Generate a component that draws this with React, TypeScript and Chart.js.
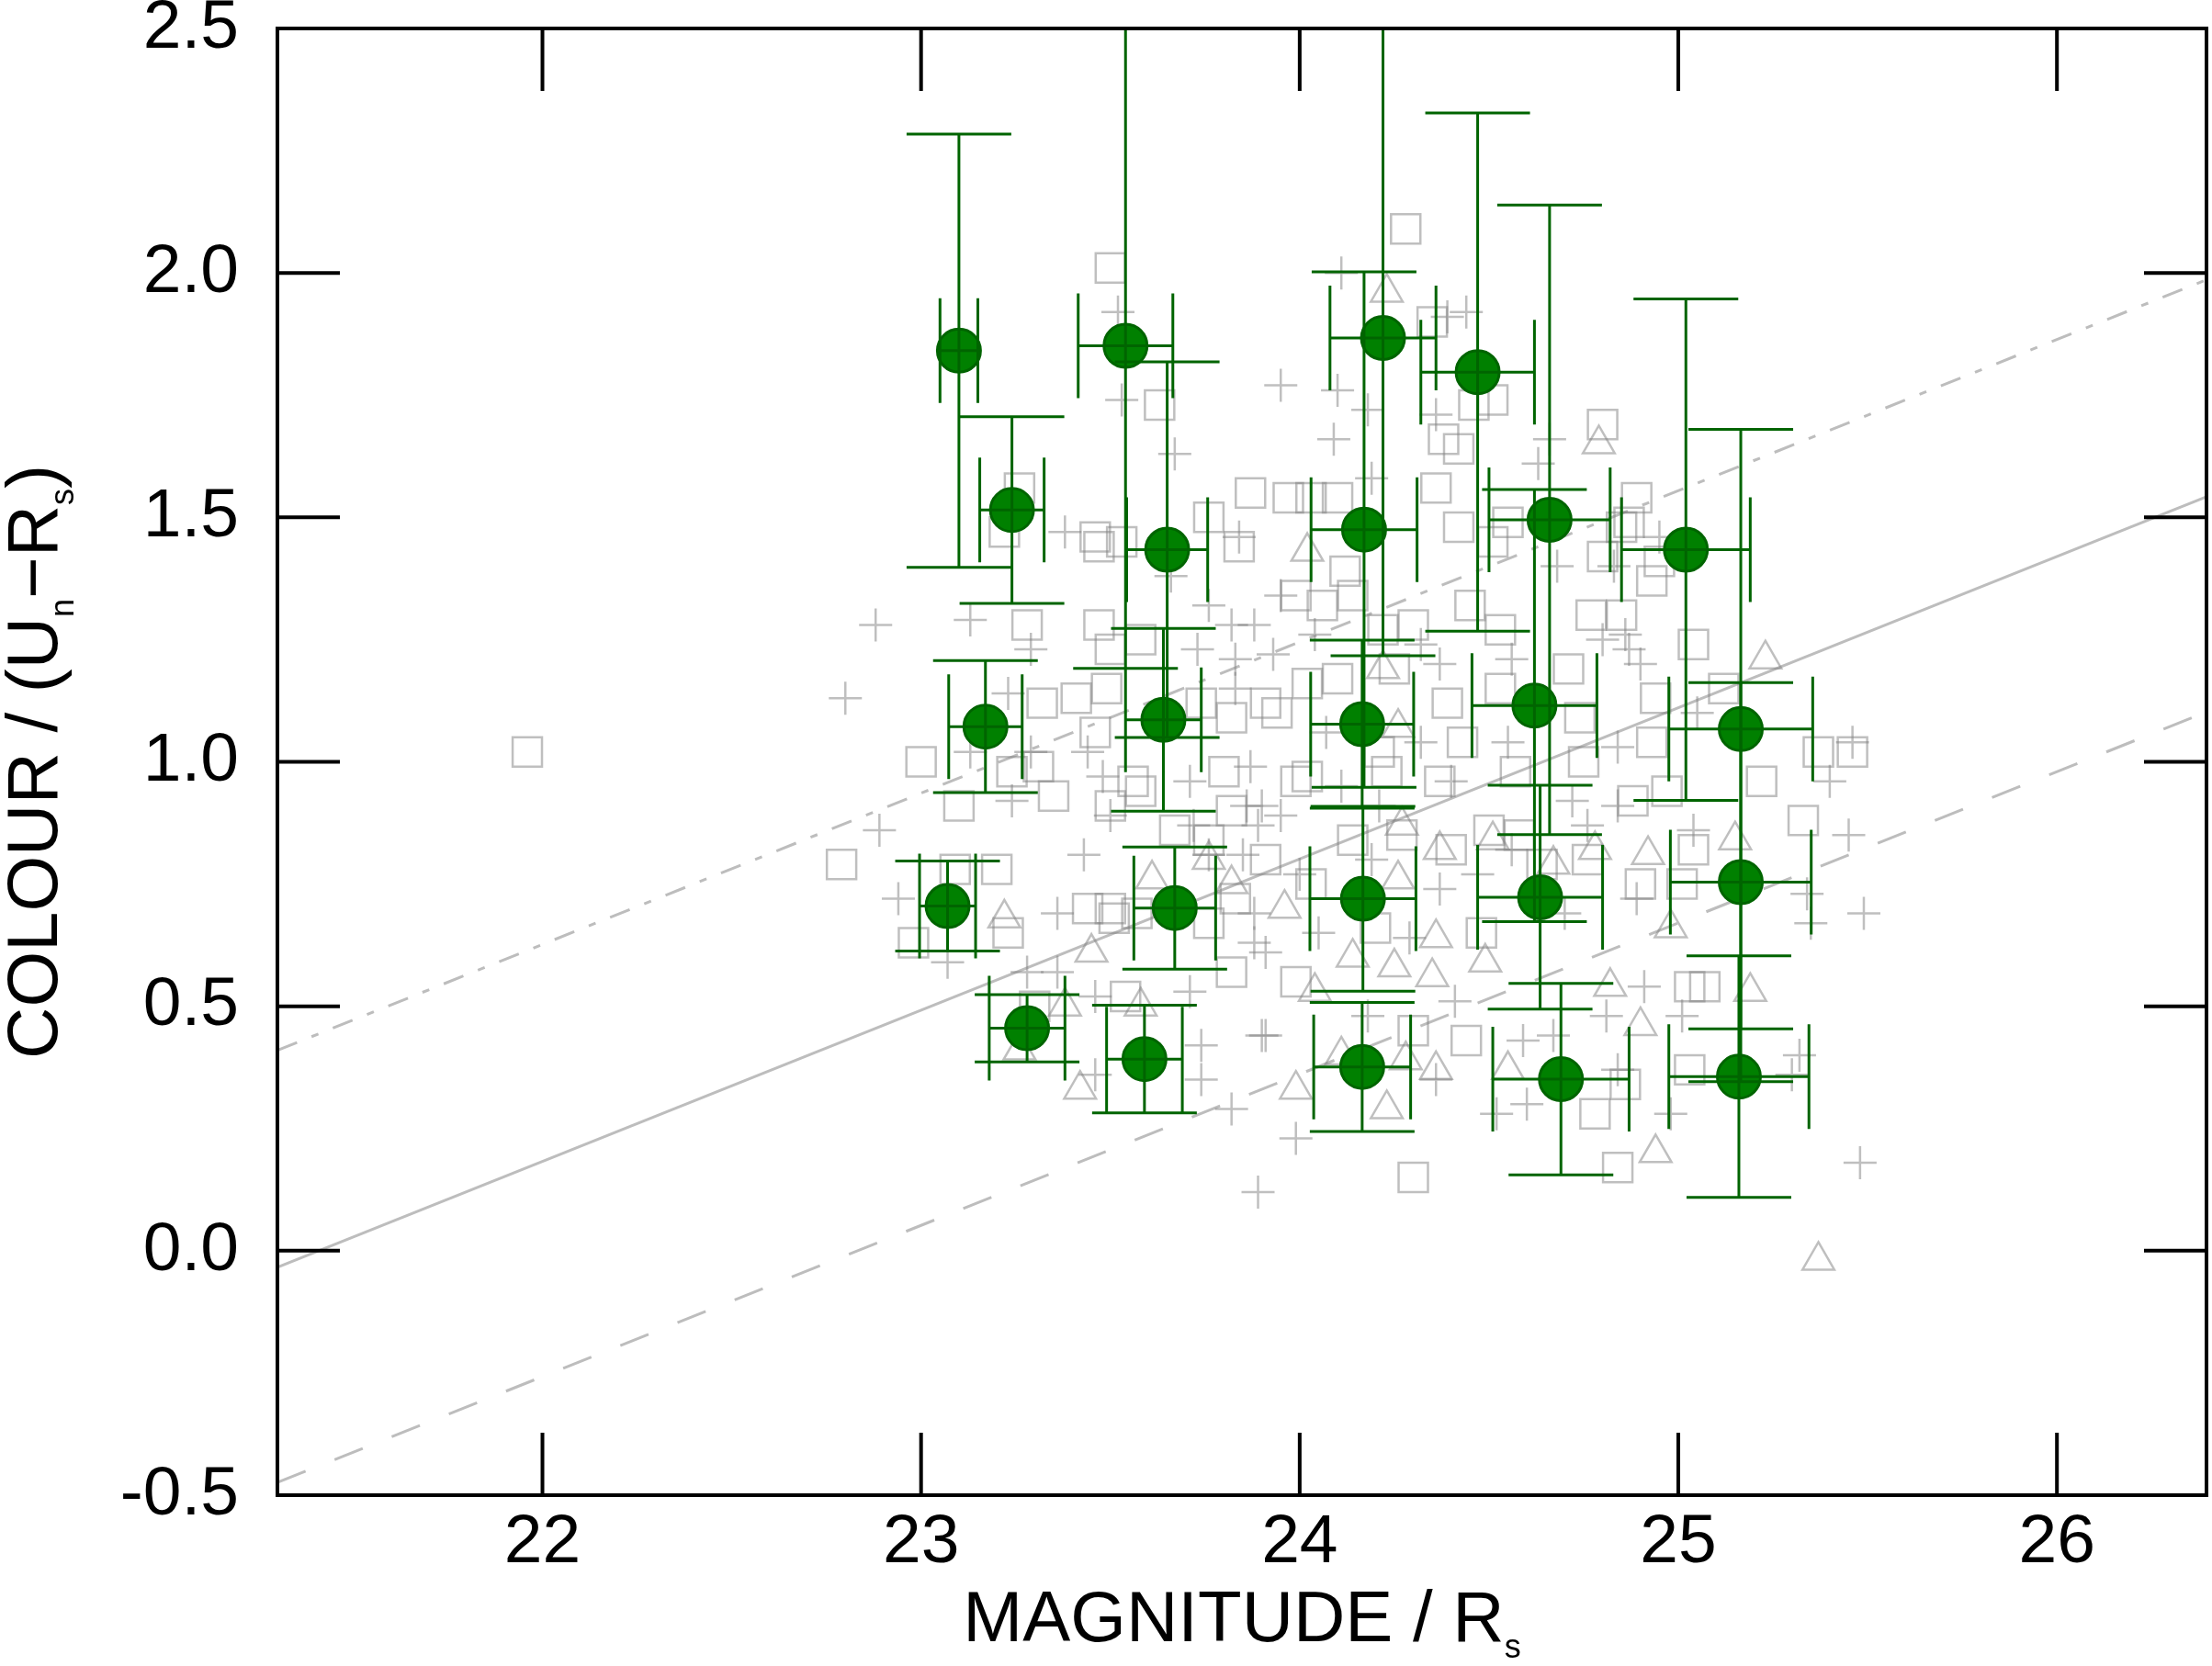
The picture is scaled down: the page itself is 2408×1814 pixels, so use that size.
import { useEffect, useRef } from "react";
import { Chart, registerables } from "chart.js";

Chart.register(...registerables);

const FONT = "'Liberation Sans', Arial, Helvetica, sans-serif";

const X_TICKS = [22, 23, 24, 25, 26];
const Y_TICKS = [-0.5, 0, 0.5, 1, 1.5, 2, 2.5];

const X_TITLE: [string, boolean][] = [["MAGNITUDE / R", false], ["s", true]];
const Y_TITLE: [string, boolean][] = [
  ["COLOUR / (U", false],
  ["n", true],
  ["\u2212R", false],
  ["s", true],
  [")", false],
];

// green objects with error bars (symmetric)
const GREEN_X = [23.10, 23.24, 23.54, 23.65, 23.17, 23.64, 23.07, 23.67, 23.28, 23.59, 24.22, 24.47, 24.17, 24.165, 24.167, 24.165, 24.66, 24.62, 24.635, 24.69, 25.02, 25.165, 25.165, 25.16];
const GREEN_Y = [1.841, 1.515, 1.851, 1.434, 1.072, 1.086, 0.705, 0.701, 0.455, 0.392, 1.867, 1.797, 1.475, 1.077, 0.720, 0.376, 1.495, 1.115, 0.723, 0.351, 1.434, 1.067, 0.754, 0.356];
const GREEN_XERR = [0.05, 0.085, 0.125, 0.107, 0.097, 0.10, 0.074, 0.108, 0.10, 0.10, 0.14, 0.15, 0.14, 0.136, 0.14, 0.128, 0.16, 0.165, 0.165, 0.18, 0.17, 0.19, 0.186, 0.185];
const GREEN_YERR = [0.443, 0.191, 0.66, 0.384, 0.135, 0.187, 0.092, 0.125, 0.069, 0.11, 0.65, 0.53, 0.527, 0.172, 0.189, 0.132, 0.644, 0.442, 0.229, 0.196, 0.513, 0.613, 0.408, 0.247];

// the three parallel relations
const FIT_X = [21.3, 26.395];
const FIT_MID = [-0.034, 1.542];
const FIT_UPPER = [0.41, 1.986];
const FIT_LOWER = [-0.474, 1.102];

const SQUARE_X = [21.96, 22.79, 23.00, 22.98, 23.10, 23.50, 23.63, 23.26, 23.87, 23.76, 23.22, 23.47, 23.53, 23.84, 23.28, 23.47, 23.50, 23.58, 23.32, 23.41, 23.49, 23.74, 23.82, 23.46, 23.24, 23.31, 23.35, 23.56, 23.58, 23.50, 23.80, 23.82, 23.67, 23.76, 23.09, 23.20, 23.44, 23.50, 23.83, 23.76, 23.23, 23.51, 23.57, 23.54, 23.30, 23.82, 24.77, 24.93, 24.80, 25.04, 23.91, 24.06, 23.99, 24.14, 24.12, 24.22, 24.30, 24.42, 24.51, 24.55, 24.85, 24.95, 24.45, 24.53, 24.25, 24.71, 23.94, 24.02, 24.10, 24.39, 24.53, 24.74, 24.93, 24.94, 24.02, 24.21, 24.23, 24.37, 24.43, 24.57, 24.75, 24.88, 24.97, 25.04, 24.64, 24.76, 24.03, 24.14, 24.27, 24.40, 24.50, 24.58, 24.90, 25.01, 23.91, 23.99, 24.30, 24.44, 25.03, 25.03, 24.86, 24.78, 24.84, 24.30, 23.99, 24.48, 24.20, 25.12, 25.37, 25.46, 25.33, 25.22, 25.07, 24.28, 24.35, 24.46, 24.51, 24.38, 24.42, 24.80, 23.97, 24.03, 24.10, 24.36, 24.89, 24.87, 24.85, 23.46];
const SQUARE_Y = [1.02, 0.79, 1.00, 0.63, 0.91, 2.01, 1.73, 1.56, 1.55, 1.50, 1.47, 1.44, 1.45, 1.44, 1.28, 1.28, 1.23, 1.25, 1.12, 1.13, 1.15, 1.12, 1.09, 1.06, 0.98, 0.99, 0.93, 0.96, 0.94, 0.91, 0.98, 0.90, 0.86, 0.84, 0.78, 0.78, 0.70, 0.70, 0.72, 0.67, 0.65, 0.68, 0.69, 0.52, 0.50, 0.57, 1.30, 1.37, 1.42, 1.24, 1.12, 1.32, 1.34, 1.34, 1.39, 1.27, 1.28, 1.48, 1.45, 1.49, 1.48, 1.41, 1.32, 1.27, 1.19, 1.19, 1.10, 1.16, 1.17, 1.12, 1.15, 1.09, 1.04, 1.13, 0.97, 1.02, 0.98, 0.96, 1.04, 0.98, 1.00, 0.92, 0.94, 0.82, 0.79, 0.80, 0.75, 0.84, 0.85, 0.82, 0.86, 0.85, 0.75, 0.75, 0.80, 0.96, 0.45, 0.43, 0.54, 0.37, 0.34, 0.28, 0.17, 0.15, 0.55, 0.65, 0.66, 1.15, 1.02, 1.02, 0.88, 0.96, 0.54, 2.09, 1.90, 1.73, 1.74, 1.66, 1.64, 1.69, 1.54, 1.54, 1.54, 1.56, 1.54, 1.49, 1.30, 1.46];

const TRIANGLE_X = [23.61, 23.76, 23.82, 23.22, 23.45, 23.38, 23.26, 23.58, 23.42, 24.02, 24.22, 24.26, 24.27, 24.37, 24.51, 24.78, 24.92, 23.96, 24.26, 24.67, 24.14, 24.25, 24.35, 24.36, 24.49, 24.04, 23.99, 24.23, 24.36, 24.55, 24.82, 24.90, 24.94, 24.98, 24.11, 24.28, 25.23, 25.15, 25.19, 25.37, 24.23, 24.79];
const TRIANGLE_Y = [0.76, 0.80, 0.75, 0.68, 0.61, 0.50, 0.41, 0.50, 0.33, 1.43, 1.19, 1.07, 0.87, 0.82, 0.84, 0.82, 0.81, 0.70, 0.76, 0.79, 0.60, 0.58, 0.56, 0.64, 0.59, 0.53, 0.33, 0.29, 0.37, 0.37, 0.54, 0.46, 0.20, 0.66, 0.40, 0.39, 1.21, 0.84, 0.53, -0.02, 1.96, 1.65];

const PLUS_X = [23.38, 23.84, 23.66, 22.88, 23.13, 23.29, 23.76, 23.82, 23.88, 23.73, 23.83, 23.83, 22.80, 23.23, 23.13, 23.29, 23.44, 23.24, 23.48, 23.71, 23.87, 23.86, 23.50, 23.72, 22.89, 23.43, 23.76, 23.85, 23.89, 22.94, 23.36, 23.88, 23.07, 23.28, 23.36, 23.46, 23.71, 23.74, 23.74, 23.46, 23.82, 23.89, 23.90, 23.95, 24.68, 24.83, 24.86, 24.80, 23.93, 24.04, 24.32, 24.37, 24.56, 24.90, 25.05, 24.07, 24.32, 24.55, 24.84, 23.90, 24.11, 24.40, 24.72, 24.84, 24.76, 25.04, 23.95, 24.21, 24.00, 24.37, 24.47, 24.89, 24.19, 24.56, 23.91, 24.05, 23.91, 23.99, 24.18, 24.29, 24.36, 24.59, 24.67, 24.60, 24.52, 24.91, 25.01, 24.98, 24.84, 24.81, 24.41, 24.70, 25.46, 25.40, 25.45, 25.49, 25.34, 25.35, 25.32, 25.30, 25.48, 24.11, 24.44, 23.95, 24.10, 24.18, 24.09, 24.36, 24.66, 24.63, 24.19, 24.95, 24.87, 23.52, 23.53, 23.67, 23.88, 24.39];
const PLUS_Y = [1.47, 1.46, 1.38, 1.28, 1.29, 1.23, 1.32, 1.28, 1.28, 1.23, 1.21, 1.15, 1.13, 1.14, 1.02, 1.02, 1.02, 0.92, 0.97, 0.96, 0.99, 0.91, 0.89, 0.87, 0.86, 0.81, 0.81, 0.81, 0.87, 0.72, 0.69, 0.69, 0.59, 0.57, 0.57, 0.52, 0.53, 0.42, 0.35, 0.36, 0.29, 0.12, 0.44, 1.34, 1.40, 1.40, 1.26, 1.25, 1.22, 1.26, 1.24, 1.20, 1.21, 1.20, 1.10, 1.06, 1.04, 1.04, 1.03, 0.91, 0.95, 0.96, 0.92, 0.91, 0.87, 0.86, 0.89, 0.91, 0.77, 0.74, 0.77, 0.72, 0.80, 0.82, 0.61, 0.65, 0.44, 0.23, 0.48, 0.64, 0.35, 0.43, 0.44, 0.30, 0.28, 0.54, 0.48, 0.28, 0.37, 0.48, 0.51, 0.69, 1.04, 0.96, 0.85, 0.69, 0.73, 0.67, 0.40, 0.36, 0.18, 2.00, 1.92, 1.77, 1.76, 1.72, 1.66, 1.71, 1.66, 1.61, 1.58, 1.46, 1.23, 1.92, 1.74, 1.63, 0.63, 1.91];

const GREY = "rgba(128, 128, 128, 0.5)";
const LINE_GREY = "#bdbdbd";
const GREEN = "#008000";
const DARK_GREEN = "#006400";
const CAP = 57;

const pts = (xs: number[], ys: number[]) => xs.map((x, i) => ({ x, y: ys[i] }));

function drawRich(ctx: CanvasRenderingContext2D, parts: [string, boolean][], cx: number, baseY: number) {
  const big = `78px ${FONT}`;
  const small = `36px ${FONT}`;
  const widths = parts.map(([t, sub]) => {
    ctx.font = sub ? small : big;
    return ctx.measureText(t).width;
  });
  let x = cx - widths.reduce((a, b) => a + b, 0) / 2;
  parts.forEach(([t, sub], i) => {
    ctx.font = sub ? small : big;
    ctx.fillText(t, x, baseY + (sub ? 18 : 0));
    x += widths[i];
  });
}

const noScalePadding = (s: any) => {
  s.paddingTop = 0;
  s.paddingBottom = 0;
  s.paddingLeft = 0;
  s.paddingRight = 0;
};

const errorBars = {
  id: "errorBars",
  afterDatasetsDraw(chart: any) {
    const { ctx, chartArea: a, scales } = chart;
    const sx = scales.x;
    const sy = scales.y;
    ctx.save();
    ctx.beginPath();
    ctx.rect(a.left, a.top, a.right - a.left, a.bottom - a.top);
    ctx.clip();
    ctx.strokeStyle = DARK_GREEN;
    ctx.lineWidth = 3;
    GREEN_X.forEach((gx, i) => {
      const gy = GREEN_Y[i];
      const px = sx.getPixelForValue(gx);
      const py = sy.getPixelForValue(gy);
      const x0 = sx.getPixelForValue(gx - GREEN_XERR[i]);
      const x1 = sx.getPixelForValue(gx + GREEN_XERR[i]);
      const y0 = sy.getPixelForValue(gy - GREEN_YERR[i]);
      const y1 = sy.getPixelForValue(gy + GREEN_YERR[i]);
      ctx.beginPath();
      ctx.moveTo(px, y0);
      ctx.lineTo(px, y1);
      ctx.moveTo(px - CAP, y0);
      ctx.lineTo(px + CAP, y0);
      ctx.moveTo(px - CAP, y1);
      ctx.lineTo(px + CAP, y1);
      ctx.moveTo(x0, py);
      ctx.lineTo(x1, py);
      ctx.moveTo(x0, py - CAP);
      ctx.lineTo(x0, py + CAP);
      ctx.moveTo(x1, py - CAP);
      ctx.lineTo(x1, py + CAP);
      ctx.stroke();
    });
    ctx.restore();
  },
};

const frame = {
  id: "frame",
  afterDraw(chart: any) {
    const { ctx, chartArea: a, scales } = chart;
    const tick = 68;
    ctx.save();
    ctx.strokeStyle = "#000";
    ctx.lineWidth = 4;
    ctx.strokeRect(a.left, a.top, a.right - a.left, a.bottom - a.top);
    ctx.beginPath();
    X_TICKS.forEach((v) => {
      const p = scales.x.getPixelForValue(v);
      ctx.moveTo(p, a.bottom);
      ctx.lineTo(p, a.bottom - tick);
      ctx.moveTo(p, a.top);
      ctx.lineTo(p, a.top + tick);
    });
    Y_TICKS.forEach((v) => {
      const p = scales.y.getPixelForValue(v);
      ctx.moveTo(a.left, p);
      ctx.lineTo(a.left + tick, p);
      ctx.moveTo(a.right, p);
      ctx.lineTo(a.right - tick, p);
    });
    ctx.stroke();

    ctx.fillStyle = "#000";
    ctx.textAlign = "left";
    ctx.textBaseline = "alphabetic";
    drawRich(ctx, X_TITLE, (a.left + a.right) / 2, chart.height - 27);
    ctx.translate(62, (a.top + a.bottom) / 2);
    ctx.rotate(-Math.PI / 2);
    drawRich(ctx, Y_TITLE, 0, 0);
    ctx.restore();
  },
};

const ColourMagnitude = () => {
  const chartRef = useRef<HTMLCanvasElement>(null);
  const chartInstance = useRef<Chart | null>(null);

  useEffect(() => {
    const canvas = chartRef.current;
    if (!canvas) return;
    const ctx = canvas.getContext("2d");
    if (!ctx) return;
    if (chartInstance.current) chartInstance.current.destroy();

    const greyMarks = { borderColor: GREY, backgroundColor: "transparent", borderWidth: 2.5 };
    const fitLine = { borderColor: LINE_GREY, borderWidth: 3, pointRadius: 0, showLine: true, fill: false };

    chartInstance.current = new Chart(ctx, {
      type: "scatter",
      data: {
        datasets: [
          {
            data: pts(GREEN_X, GREEN_Y),
            pointStyle: "circle",
            pointRadius: 23.5,
            pointBackgroundColor: GREEN,
            pointBorderColor: DARK_GREEN,
            pointBorderWidth: 3,
            order: 0,
          },
          { data: pts(SQUARE_X, SQUARE_Y), pointStyle: "rect", pointRadius: 22.6, ...greyMarks, order: 1 },
          { data: pts(TRIANGLE_X, TRIANGLE_Y), pointStyle: "triangle", pointRadius: 20, ...greyMarks, order: 2 },
          { data: pts(PLUS_X, PLUS_Y), pointStyle: "cross", pointRadius: 18, ...greyMarks, order: 3 },
          { data: pts(FIT_X, FIT_MID), ...fitLine, order: 4 },
          { data: pts(FIT_X, FIT_UPPER), ...fitLine, borderDash: [23, 17, 8, 17], order: 5 },
          { data: pts(FIT_X, FIT_LOWER), ...fitLine, borderDash: [33, 34], order: 6 },
        ] as any,
      },
      options: {
        animation: false,
        responsive: true,
        maintainAspectRatio: false,
        events: [],
        layout: { autoPadding: false, padding: { top: 31, right: 6, left: 0, bottom: 0 } },
        plugins: { legend: { display: false }, tooltip: { enabled: false } },
        scales: {
          x: {
            type: "linear",
            min: 21.3,
            max: 26.395,
            afterBuildTicks: (s: any) => {
              s.ticks = X_TICKS.map((value) => ({ value }));
            },
            afterFit: (s: any) => {
              s.height = 186;
              noScalePadding(s);
            },
            ticks: {
              color: "#000",
              padding: 7,
              font: { family: FONT, size: 75 },
              callback: (v: any) => String(v),
            },
            grid: { display: false, drawTicks: false },
            border: { display: false },
          },
          y: {
            type: "linear",
            min: -0.5,
            max: 2.5,
            afterBuildTicks: (s: any) => {
              s.ticks = Y_TICKS.map((value) => ({ value }));
            },
            afterFit: (s: any) => {
              s.width = 302;
              noScalePadding(s);
            },
            ticks: {
              color: "#000",
              padding: 42,
              font: { family: FONT, size: 75 },
              callback: (v: any) => Number(v).toFixed(1),
            },
            grid: { display: false, drawTicks: false },
            border: { display: false },
          },
        },
      } as any,
      plugins: [errorBars, frame],
    });

    return () => {
      if (chartInstance.current) {
        chartInstance.current.destroy();
        chartInstance.current = null;
      }
    };
  }, []);

  return (
    <div style={{ position: "absolute", left: 0, top: 0, width: 2408, height: 1814, background: "#fff" }}>
      <canvas ref={chartRef} />
    </div>
  );
};

export default function App() {
  return <ColourMagnitude />;
}
